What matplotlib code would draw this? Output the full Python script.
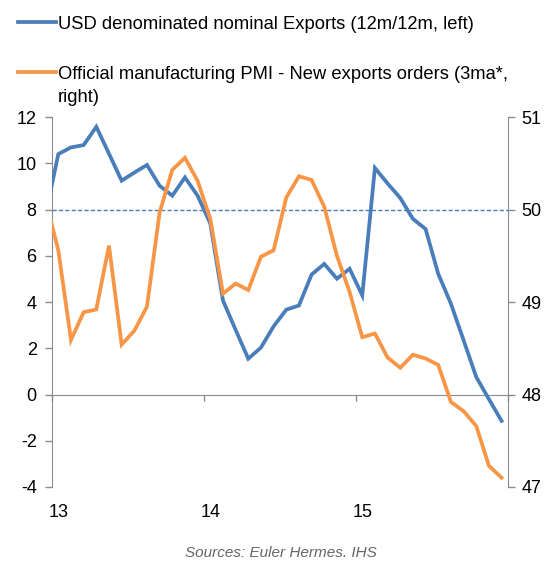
import numpy as np
import matplotlib
matplotlib.use("Agg")
import matplotlib.pyplot as plt
from matplotlib.transforms import blended_transform_factory
from matplotlib.lines import Line2D

plt.rcParams['font.family'] = ['Liberation Sans', 'DejaVu Sans']

# Monthly data, Dec 2012 .. Dec 2015 (first point sits just left of the axis)
exports = [7.8, 10.40, 10.69, 10.79, 11.58, 10.42, 9.25, 9.6, 9.93, 9.03, 8.60, 9.39,
           8.60, 7.40, 4.07, 2.8, 1.55, 2.03, 2.95, 3.67, 3.85, 5.19, 5.65, 5.01,
           5.44, 4.29, 9.80, 9.13, 8.50, 7.60, 7.16, 5.22, 3.93, 2.35, 0.76, -0.2, -1.14]
pmi_export_orders = [50.10, 49.56, 48.59, 48.89, 48.92, 49.61, 48.54, 48.69, 48.95, 49.97,
                     50.43, 50.56, 50.31, 49.90, 49.09, 49.20, 49.13, 49.49, 49.56, 50.13,
                     50.36, 50.32, 50.03, 49.50, 49.11, 48.62, 48.66, 48.40, 48.29, 48.43,
                     48.39, 48.32, 47.92, 47.82, 47.66, 47.23, 47.10]
pmi_threshold = 50
year_labels = ['13', '14', '15']
left_ticks = [-4, -2, 0, 2, 4, 6, 8, 10, 12]
right_ticks = [47, 48, 49, 50, 51]

labels = ['USD denominated nominal Exports (12m/12m, left)',
          'Official manufacturing PMI - New exports orders (3ma*,\nright)']
source = 'Sources: Euler Hermes. IHS'

blue = '#4A7EBB'
orange = '#F79646'
grey = '#8C8C8C'

months = np.arange(len(exports)) - 0.5  # mid-month positions, month 0 = Jan 2013

W, H = 546, 563
fig = plt.figure(figsize=(W / 100, H / 100), dpi=100)
ax = fig.add_axes([0.0952, 0.135, 0.835, 0.657])
ax2 = ax.twinx()

ax.set_xlim(0, 36)
ax.set_ylim(-4, 12)
ax2.set_ylim(47, 51)

# threshold line (PMI = 50), drawn beneath the series
trans = blended_transform_factory(ax.transAxes, ax2.transData)
ax.add_line(Line2D([0, 1], [pmi_threshold, pmi_threshold], transform=trans,
                   color=blue, lw=1.0, ls=(0, (3, 1.6)), zorder=1))

l1, = ax.plot(months, exports, color=blue, lw=2.7, solid_joinstyle='miter', zorder=3)
l2, = ax2.plot(months, pmi_export_orders, color=orange, lw=2.7, solid_joinstyle='miter', zorder=3)

# spines
for a in (ax, ax2):
    a.spines['top'].set_visible(False)
    a.spines['left'].set_color(grey)
    a.spines['right'].set_color(grey)
ax.spines['right'].set_visible(False)
ax2.spines['left'].set_visible(False)
ax2.spines['bottom'].set_visible(False)
ax.spines['bottom'].set_position(('data', 0))
ax.spines['bottom'].set_color(grey)
ax.spines['bottom'].set_zorder(0)

ax.set_yticks(left_ticks)
ax.set_yticklabels([str(t) for t in left_ticks])
ax2.set_yticks(right_ticks)
ax2.set_yticklabels([str(t) for t in right_ticks])
ax.tick_params(axis='y', direction='out', length=5, width=1, color=grey,
               labelsize=13, pad=6)
ax2.tick_params(axis='y', direction='out', length=5, width=1, color=grey,
                labelsize=13, pad=5)

ax.set_xticks([0, 12, 24, 36])
ax.tick_params(axis='x', direction='out', length=4, width=1, color=grey, labelbottom=False)

sec = ax.secondary_xaxis(0)
sec.set_xticks([0.5, 12.5, 24.5])
sec.set_xticklabels(year_labels)
sec.tick_params(axis='x', length=0, labelsize=13, pad=12)
sec.spines['bottom'].set_visible(False)

# legend, drawn manually so the handle lines up with the first text line
def fy(px):
    return 1 - px / H

entries = [(l1, labels[0], 22), (l2, labels[1], 72)]
for line, text, ypx in entries:
    fig.add_artist(Line2D([18 / W, 56 / W], [fy(ypx), fy(ypx)], transform=fig.transFigure,
                          color=line.get_color(), lw=2.7))
    for i, part in enumerate(text.split('\n')):
        fig.text(58 / W, fy(ypx + 6.8 + 23 * i), part, ha='left', va='baseline',
                 fontsize=13.2, color='black')

fig.text(0.515, fy(557), source, ha='center', va='baseline', fontsize=11,
         style='italic', color='#666666')

fig.savefig('out.png', dpi=100)
